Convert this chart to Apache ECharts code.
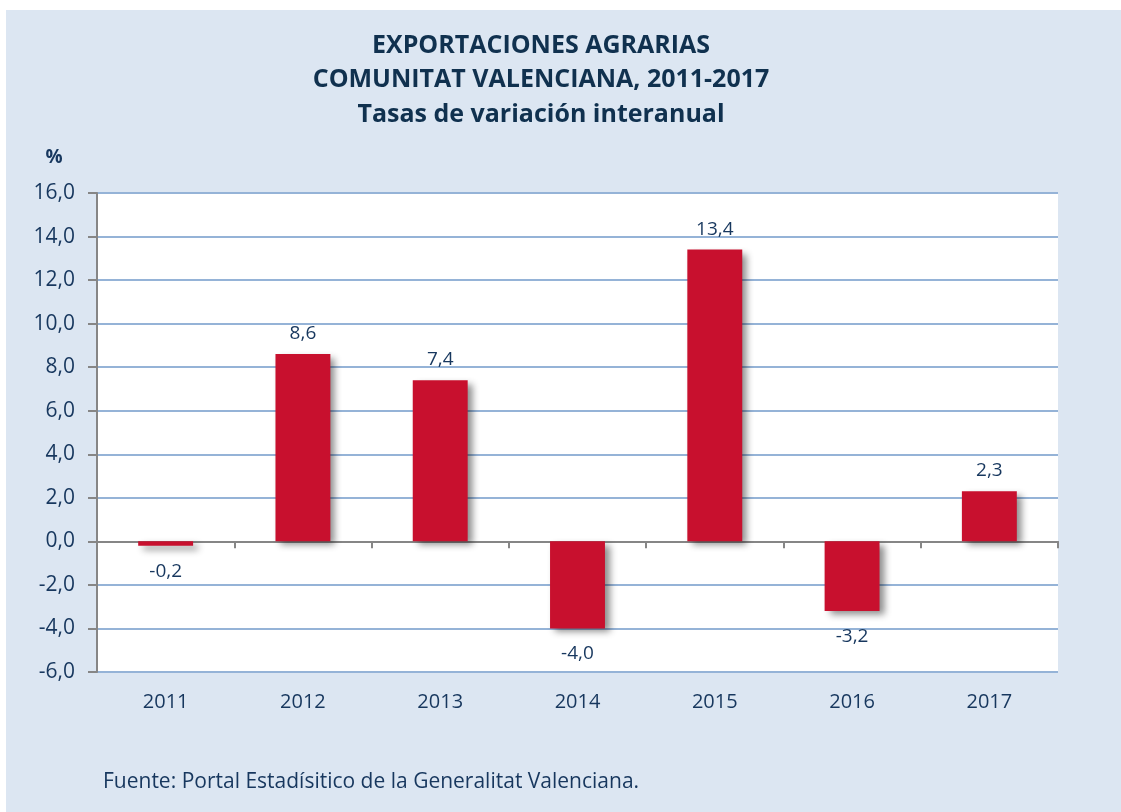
<!DOCTYPE html>
<html style="height: 100%;">
<head>
    <meta charset="utf-8">
    <script src="https://cdn.jsdelivr.net/npm/echarts@6/dist/echarts.min.js"></script>
</head>
<body style="height: 100%; margin: 0; background-color: #fff;">
    <div id="container" style="width: 1121px; height: 812px;"></div>
    <script type="text/javascript">
var years = ['2011', '2012', '2013', '2014', '2015', '2016', '2017'];
var rates = [-0.2, 8.6, 7.4, -4.0, 13.4, -3.2, 2.3];
var titleLines = ['EXPORTACIONES AGRARIAS', 'COMUNITAT VALENCIANA, 2011-2017', 'Tasas de variación interanual'];
var sourceText = 'Fuente: Portal Estadísitico de la Generalitat Valenciana.';

var textColor = '#17375e';
var fontName = 'Open Sans';

function fmt(v) {
    return v.toFixed(1).replace('.', ',');
}

var chart = echarts.init(document.getElementById('container'));

// three title lines, each centred on its own
var titleY = [46, 80, 115];
var titleTexts = titleLines.map(function (t, i) {
    return {
        type: 'text',
        x: 541,
        y: titleY[i],
        style: {
            text: t,
            fill: '#10314f',
            fontFamily: fontName,
            fontWeight: 'bold',
            fontSize: 25,
            align: 'center',
            verticalAlign: 'middle'
        }
    };
});

var option = {
    textStyle: { fontFamily: fontName },
    graphic: [
        {
            type: 'rect',
            z: -10,
            shape: { x: 6, y: 10, width: 1115, height: 802 },
            style: { fill: '#dce6f2' }
        },
        {
            type: 'text',
            x: 54,
            y: 158,
            style: {
                text: '%', fill: textColor, fontFamily: fontName, fontWeight: 'bold',
                fontSize: 19, align: 'center', verticalAlign: 'middle'
            }
        },
        {
            type: 'text',
            x: 103,
            y: 782,
            style: {
                text: sourceText, fill: textColor, fontFamily: fontName,
                fontSize: 21, align: 'left', verticalAlign: 'middle'
            }
        }
    ].concat(titleTexts),
    grid: {
        left: 97,
        right: 63,
        top: 193,
        bottom: 140,
        show: true,
        backgroundColor: '#fff',
        borderWidth: 0
    },
    xAxis: [
        {
            type: 'category',
            data: years,
            axisLine: { onZero: true, lineStyle: { color: '#868686', width: 2 } },
            axisTick: { show: true, length: 7, lineStyle: { color: '#868686', width: 2 } },
            axisLabel: { show: false }
        },
        {
            type: 'category',
            data: years,
            position: 'bottom',
            axisLine: { show: false, onZero: false },
            axisTick: { show: false },
            axisLabel: { color: textColor, fontSize: 20, margin: 20 }
        }
    ],
    yAxis: {
        type: 'value',
        min: -6,
        max: 16,
        interval: 2,
        axisLine: { show: true, lineStyle: { color: '#868686', width: 2 } },
        axisTick: { show: true, length: 9, lineStyle: { color: '#868686', width: 2 } },
        axisLabel: { color: textColor, fontSize: 21, margin: 22, formatter: fmt },
        splitLine: { lineStyle: { color: '#95b3d7', width: 2 } }
    },
    series: [
        {
            type: 'bar',
            xAxisIndex: 0,
            barWidth: '40%',
            data: rates.map(function (v) {
                return {
                    value: v,
                    label: {
                        position: v < 0 ? 'bottom' : 'top',
                        distance: v < 0 ? 16 : 11
                    }
                };
            }),
            itemStyle: {
                color: '#c8102e',
                shadowColor: 'rgba(0,0,0,0.45)',
                shadowBlur: 7,
                shadowOffsetX: 5,
                shadowOffsetY: 4
            },
            label: {
                show: true,
                color: textColor,
                fontSize: 19,
                formatter: function (p) { return fmt(p.value); }
            }
        }
    ]
};

chart.setOption(option);
    </script>
</body>
</html>
